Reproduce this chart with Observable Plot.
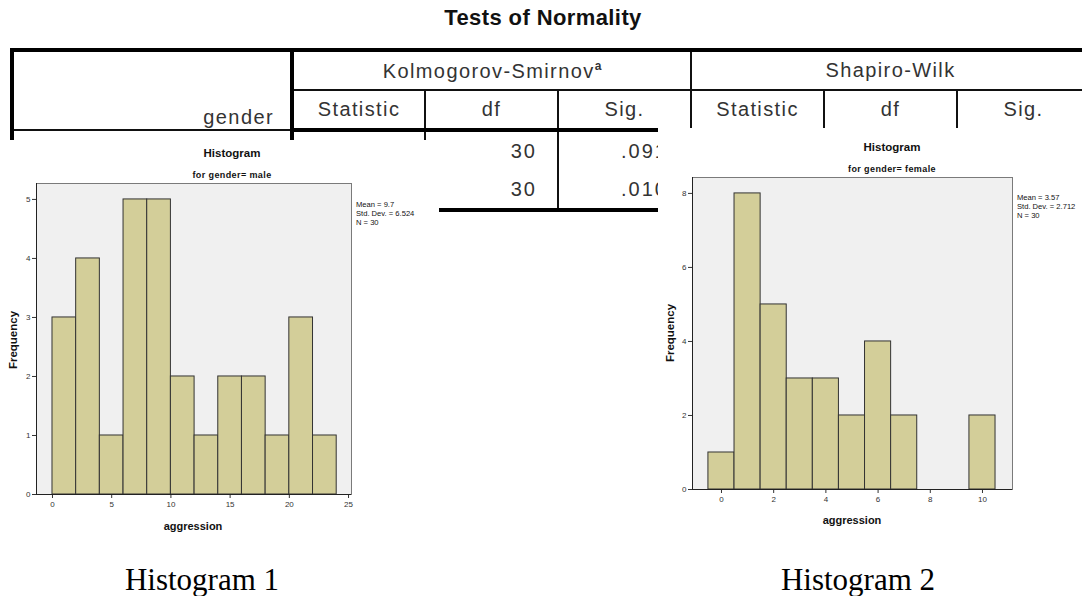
<!DOCTYPE html>
<html>
<head>
<meta charset="utf-8">
<script src="https://cdn.jsdelivr.net/npm/d3@7"></script>
<script src="https://cdn.jsdelivr.net/npm/@observablehq/plot@0.6"></script>
<style>
  html, body { margin: 0; padding: 0; background: #fff; }
  #page { position: relative; width: 1082px; height: 596px; overflow: hidden; background: #fff; font-family: "Liberation Sans", Arial, sans-serif; }
  .abs { position: absolute; white-space: nowrap; }
  .c { transform: translate(-50%, -50%); }
  #title { font-weight: bold; font-size: 22px; color: #111; letter-spacing: 0.4px; }
  #tn { position: absolute; left: 10px; top: 48px; border-collapse: collapse; table-layout: fixed; width: 1078px; font-size: 20px; color: #333; letter-spacing: 1.4px; }
  #tn td { border: 2px solid #111; padding: 0; text-align: center; overflow: hidden; white-space: nowrap; }
  #tn tr.r1 td { border-top: 4px solid #000; height: 37px; }
  #tn tr.r2 td { border-bottom: 4px solid #000; height: 37px; }
  #tn tr.r3 td { height: 38px; border-bottom: none; }
  #tn tr.r4 td { border-top: none; border-bottom: 4px solid #000; height: 38px; }
  #tn td.c0 { border-left: 4px solid #000; border-right: 4px solid #000; }
  #tn td.num { text-align: right; padding-right: 20px; letter-spacing: 2px; }
  #tn td.sig { padding-right: 22px; }
  #tn td.hd0 { text-align: right; vertical-align: bottom; padding-right: 16px; padding-bottom: 0px; }
  #tn sup { font-size: 12px; font-weight: bold; letter-spacing: 0; }
  .panel { position: absolute; background: #fff; }
  .ht { font-weight: bold; font-size: 11.5px; color: #111; }
  .hs { font-weight: bold; font-size: 9px; color: #111; letter-spacing: 0.4px; }
  .stats { font-size: 7.6px; line-height: 9px; color: #111; }
  .ylab { font-weight: bold; font-size: 11.5px; color: #111; transform: translate(-50%, -50%) rotate(-90deg); }
  .xlab { font-weight: bold; font-size: 11px; color: #111; }
  .cap { font-family: "Liberation Serif", "Times New Roman", serif; font-size: 31px; color: #000; }
</style>
</head>
<body>
<div id="page"></div>
<script>
// ---- data ----
const maleBinStart = [0, 2, 4, 6, 8, 10, 12, 14, 16, 18, 20, 22];
const maleCounts = [3, 4, 1, 5, 5, 2, 1, 2, 2, 1, 3, 1];
const maleBinWidth = 2;
const femaleValues = [0, 1, 2, 3, 4, 5, 6, 7, 8, 9, 10];
const femaleCounts = [1, 8, 5, 3, 3, 2, 4, 2, 0, 0, 2];
const femaleBinWidth = 1;
const maleXTicks = [0, 5, 10, 15, 20, 25];
const maleYTicks = [0, 1, 2, 3, 4, 5];
const femaleXTicks = [0, 2, 4, 6, 8, 10];
const femaleYTicks = [0, 2, 4, 6, 8];
const maleStats = ["Mean = 9.7", "Std. Dev. = 6.524", "N = 30"];
const femaleStats = ["Mean = 3.57", "Std. Dev. = 2.712", "N = 30"];
const tableTitle = "Tests of Normality";
const testGroups = ["Kolmogorov-Smirnov", "Shapiro-Wilk"];
const testCols = ["Statistic", "df", "Sig."];
const rowGenders = ["male", "female"];
// only the cells that are visible in the picture (the rest are hidden behind the histograms)
const ksDf = ["30", "30"];
const ksSig = [".091", ".010"];
const captions = ["Histogram 1", "Histogram 2"];

const page = document.getElementById("page");

function addText(cls, text, x, y, centered = true) {
  const d = document.createElement("div");
  d.className = "abs " + cls + (centered && !cls.includes("ylab") ? " c" : "");
  d.textContent = text;
  d.style.left = x + "px";
  d.style.top = y + "px";
  page.appendChild(d);
  return d;
}

// ---- title ----
addText("", tableTitle, 543, 18).id = "title";

// ---- table ----
const tbl = document.createElement("table");
tbl.id = "tn";
const cg = document.createElement("colgroup");
[280, 133, 133, 133, 133, 133, 133].forEach(w => { const c = document.createElement("col"); c.style.width = w + "px"; cg.appendChild(c); });
tbl.appendChild(cg);
const r1 = tbl.insertRow(); r1.className = "r1";
const h0 = r1.insertCell(); h0.className = "c0 hd0"; h0.rowSpan = 2; h0.textContent = "gender";
testGroups.forEach((g, i) => {
  const c = r1.insertCell(); c.colSpan = 3;
  c.innerHTML = g + (i === 0 ? "<sup>a</sup>" : "");
});
const r2 = tbl.insertRow(); r2.className = "r2";
testGroups.forEach(() => testCols.forEach(t => { const c = r2.insertCell(); c.textContent = t; }));
rowGenders.forEach((g, i) => {
  const r = tbl.insertRow(); r.className = i === 0 ? "r3" : "r4";
  const c0 = r.insertCell(); c0.className = "c0 num";
  const cells = ["", ksDf[i], ksSig[i], "", "", ""];
  cells.forEach((v, j) => { const c = r.insertCell(); c.className = "num" + (j === 2 ? " sig" : ""); c.textContent = v; });
});
page.appendChild(tbl);

// ---- histogram helper ----
function hist(bins, o) {
  return Plot.plot({
    width: o.width, height: o.height,
    marginLeft: o.ml, marginRight: o.mr, marginTop: o.mt, marginBottom: o.mb,
    style: { background: "white", fontFamily: "Liberation Sans, Arial, sans-serif", fontSize: "8px", color: "#333" },
    x: { domain: o.xDomain, ticks: o.xTicks, tickFormat: d3.format("d"), label: null, tickSize: 4, tickPadding: 3 },
    y: { domain: o.yDomain, ticks: o.yTicks, tickFormat: d3.format("d"), label: null, tickSize: 4, tickPadding: 2 },
    marks: [
      Plot.frame({ fill: "#f0f0f0", stroke: "#7a7a7a" }),
      Plot.rectY(bins, { x1: "x1", x2: "x2", y: "count", fill: "#d3ce99", stroke: "#333", strokeWidth: 1 }),
      Plot.ruleY([0], { stroke: "#222" }),
      Plot.ruleX([o.xDomain[0]], { stroke: "#222" })
    ]
  });
}

function placePanel(svg, left, top) {
  const wrap = document.createElement("div");
  wrap.className = "panel";
  wrap.style.left = left + "px";
  wrap.style.top = top + "px";
  wrap.appendChild(svg);
  page.appendChild(wrap);
}

// male histogram
const maleBins = maleBinStart.map((s, i) => ({ x1: s, x2: s + maleBinWidth, count: maleCounts[i] }));
placePanel(hist(maleBins, {
  width: 439, height: 400, ml: 36, mr: 88, mt: 43, mb: 46,
  xDomain: [-1.35, 25.25], yDomain: [0, 5.27], xTicks: maleXTicks, yTicks: maleYTicks
}), 0, 140);

// female histogram
const femaleBins = femaleValues
  .map((v, i) => ({ x1: v - femaleBinWidth / 2, x2: v + femaleBinWidth / 2, count: femaleCounts[i] }))
  .filter(d => d.count > 0);
placePanel(hist(femaleBins, {
  width: 424, height: 412, ml: 34, mr: 70, mt: 49, mb: 51,
  xDomain: [-1.11, 11.15], yDomain: [0, 8.43], xTicks: femaleXTicks, yTicks: femaleYTicks
}), 658, 128);

// ---- histogram texts ----
addText("ht", "Histogram", 232, 153);
addText("hs", "for gender= " + rowGenders[0], 232, 175);
addText("ylab", "Frequency", 13, 340);
addText("xlab", "aggression", 193, 526);
const s1 = addText("stats", "", 356, 200, false); s1.innerHTML = maleStats.join("<br>");

addText("ht", "Histogram", 892, 147);
addText("hs", "for gender= " + rowGenders[1], 892, 169);
addText("ylab", "Frequency", 670, 333);
addText("xlab", "aggression", 852, 520);
const s2 = addText("stats", "", 1017, 193, false); s2.innerHTML = femaleStats.join("<br>");

// ---- captions ----
addText("cap", captions[0], 202, 580);
addText("cap", captions[1], 858, 580);
</script>
</body>
</html>
